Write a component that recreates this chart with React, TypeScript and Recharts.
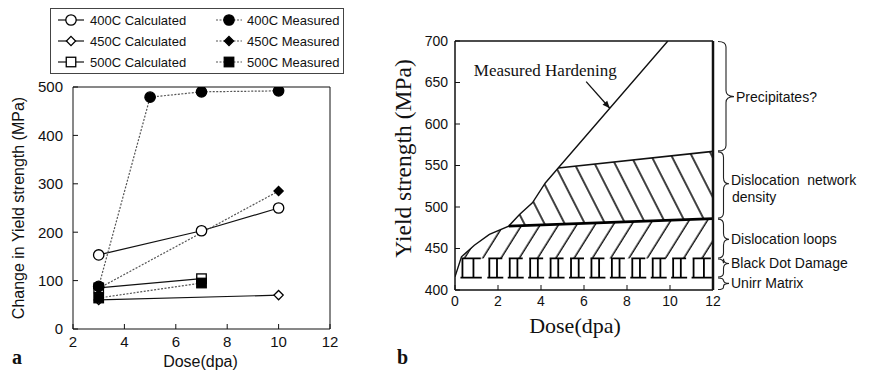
import React from 'react';
import {
  LineChart, ComposedChart, Line, Area, XAxis, YAxis, Legend, Label,
  ReferenceArea, ReferenceLine, ReferenceDot,
} from 'recharts';

const SANS = '"Liberation Sans", Arial, Helvetica, sans-serif';
const SERIF = '"Liberation Serif", "Times New Roman", serif';

// ---------------- Panel a ----------------
const xTicksA = [2, 4, 6, 8, 10, 12];
const yTicksA = [0, 100, 200, 300, 400, 500];

const dose400Calc = [3, 7, 10];
const ys400Calc = [153, 203, 250];
const dose450Calc = [3, 10];
const ys450Calc = [60, 70];
const dose500Calc = [3, 7];
const ys500Calc = [85, 104];

const dose400Meas = [3, 5, 7, 10];
const ys400Meas = [88, 479, 490, 492];
const dose450Meas = [3, 10];
const ys450Meas = [84, 285];
const dose500Meas = [3, 7];
const ys500Meas = [64, 95];

const calcNames = ['400C Calculated', '450C Calculated', '500C Calculated'];
const measNames = ['400C Measured', '450C Measured', '500C Measured'];
const markerShapes = ['circle', 'diamond', 'square'];

// ---------------- Panel b ----------------
const xTicksB = [0, 2, 4, 6, 8, 10, 12];
const yTicksB = [400, 450, 500, 550, 600, 650, 700];

const hardDose = [0, 0.3, 0.9, 1.6, 2.5, 3.0, 3.6, 4.2, 4.8, 9.9];
const hardYS = [416, 440, 454, 467, 477, 491, 505, 529, 547, 700];

const netTopDose = [4.8, 12];
const netTopYS = [547, 567];
const netBaseDose = [2.5, 12];
const netBaseYS = [477, 486];

const netBandDose = [2.5, 3.0, 3.6, 4.2, 4.8, 12];
const netBandLow = [477, 477.5, 478, 478.5, 479, 486];
const netBandHigh = [477, 491, 505, 529, 547, 567];

const loopBandDose = [0.3, 0.9, 1.6, 2.5, 12];
const loopBandLow = [438, 438, 438, 438, 438];
const loopBandHigh = [440, 454, 467, 477, 486];

const dotBoxStart = [0.3, 1.55, 2.5, 3.45, 4.4, 5.35, 6.3, 7.25, 8.2, 9.15, 10.1, 11.05];
const dotBoxEnd = [1.2, 2.2, 3.15, 4.1, 5.05, 6.0, 6.95, 7.9, 8.85, 9.8, 10.75, 11.9];
const dotBoxLow = 415;
const dotBoxHigh = 438;

const braceLow = [567, 486, 438, 415, 400];
const braceHigh = [700, 567, 486, 438, 415];
const braceTip = [633, 528, 461, 432, 408];
const braceText = [
  ['Precipitates?'],
  ['Dislocation  network', 'density'],
  ['Dislocation loops'],
  ['Black Dot Damage'],
  ['Unirr Matrix'],
];

const annotText = 'Measured Hardening';
const annotAt = { x: 4.2, y: 665 };
const arrowFrom = { x: 6.1, y: 651 };
const arrowTo = { x: 7.2, y: 619 };

const zip = (xs: number[], ys: number[]) => xs.map((x, i) => ({ x, y: ys[i] }));

type Shape = 'circle' | 'diamond' | 'square';

function MarkerGlyph({ shape, filled, cx, cy }: { shape: Shape; filled: boolean; cx: number; cy: number }) {
  const fill = filled ? '#000' : '#fff';
  const sw = 1.3;
  if (shape === 'circle') {
    return <circle cx={cx} cy={cy} r={5.2} fill={fill} stroke="#000" strokeWidth={sw} />;
  }
  if (shape === 'square') {
    const s = 9.5;
    return <rect x={cx - s / 2} y={cy - s / 2} width={s} height={s} fill={fill} stroke="#000" strokeWidth={sw} />;
  }
  const d = 4.6;
  return (
    <polygon
      points={`${cx},${cy - d} ${cx + d},${cy} ${cx},${cy + d} ${cx - d},${cy}`}
      fill={fill}
      stroke="#000"
      strokeWidth={sw}
    />
  );
}

const makeDot = (shape: Shape, filled: boolean) => (props: any) => (
  <MarkerGlyph key={`m-${shape}-${filled}-${props.index}`} shape={shape} filled={filled} cx={props.cx} cy={props.cy} />
);

const seriesA = [
  { name: calcNames[0], data: zip(dose400Calc, ys400Calc), shape: markerShapes[0] as Shape, filled: false },
  { name: calcNames[1], data: zip(dose450Calc, ys450Calc), shape: markerShapes[1] as Shape, filled: false },
  { name: calcNames[2], data: zip(dose500Calc, ys500Calc), shape: markerShapes[2] as Shape, filled: false },
  { name: measNames[0], data: zip(dose400Meas, ys400Meas), shape: markerShapes[0] as Shape, filled: true },
  { name: measNames[1], data: zip(dose450Meas, ys450Meas), shape: markerShapes[1] as Shape, filled: true },
  { name: measNames[2], data: zip(dose500Meas, ys500Meas), shape: markerShapes[2] as Shape, filled: true },
];

function LegendSymbol({ shape, filled }: { shape: Shape; filled: boolean }) {
  return (
    <svg width={28} height={14} style={{ display: 'block' }}>
      <line
        x1={1}
        y1={7}
        x2={27}
        y2={7}
        stroke={filled ? '#555' : '#111'}
        strokeWidth={1.2}
        strokeDasharray={filled ? '2 1.5' : undefined}
      />
      <MarkerGlyph shape={shape} filled={filled} cx={14} cy={7} />
    </svg>
  );
}

function LegendBox() {
  const rows = [0, 1, 2];
  return (
    <div
      style={{
        width: 294,
        height: 66,
        border: '1px solid #444',
        boxSizing: 'border-box',
        position: 'relative',
        background: '#fff',
        fontFamily: SANS,
        fontSize: 13,
        color: '#111',
      }}
    >
      {rows.map((r) => (
        <React.Fragment key={r}>
          <div style={{ position: 'absolute', left: 6, top: 4 + r * 21, display: 'flex', alignItems: 'center', height: 14 }}>
            <LegendSymbol shape={markerShapes[r] as Shape} filled={false} />
            <span style={{ marginLeft: 5, whiteSpace: 'nowrap' }}>{calcNames[r]}</span>
          </div>
          <div style={{ position: 'absolute', left: 164, top: 4 + r * 21, display: 'flex', alignItems: 'center', height: 14 }}>
            <LegendSymbol shape={markerShapes[r] as Shape} filled={true} />
            <span style={{ marginLeft: 4, whiteSpace: 'nowrap' }}>{measNames[r]}</span>
          </div>
        </React.Fragment>
      ))}
    </div>
  );
}

const tickStyleA = { fontSize: 15, fill: '#111', fontFamily: SANS };
const tickStyleB = { fontSize: 14, fill: '#111', fontFamily: SANS };
const blank = () => '';

function Brace(i: number) {
  return (p: any) => {
    const right = p.x + p.width;
    const yt = p.y;
    const yb = p.y + p.height;
    const big = i === 0;
    const x0 = right + 5;
    const w = big ? 16 : 11;
    const mid = x0 + w / 2;
    const frac = (braceHigh[i] - braceTip[i]) / (braceHigh[i] - braceLow[i]);
    const ym = yt + frac * (yb - yt);
    const r = Math.min(6, (yb - yt) / 4);
    const d = `M${x0},${yt + 0.5} Q${mid},${yt + 0.5} ${mid},${yt + r} L${mid},${ym - r} Q${mid},${ym} ${x0 + w},${ym} Q${mid},${ym} ${mid},${ym + r} L${mid},${yb - r} Q${mid},${yb - 0.5} ${x0},${yb - 0.5}`;
    const lines = braceText[i];
    const ty0 = lines.length > 1 ? ym - 4 : ym;
    return (
      <g>
        <path d={d} fill="none" stroke="#222" strokeWidth={1.1} />
        {lines.map((t, k) => (
          <text
            key={k}
            x={x0 + w + (k === 0 ? 2 : 3)}
            y={ty0 + k * 17}
            dominantBaseline="central"
            fontFamily={SANS}
            fontSize={14}
            fill="#111"
            style={{ whiteSpace: 'pre' }}
          >
            {t}
          </text>
        ))}
      </g>
    );
  };
}

function DotBoxShape(p: any) {
  const { x, y, width, height } = p;
  const d = `M${x},${y} H${x + width} M${x - 1},${y + height} H${x + width + 1} M${x + 1},${y} V${y + height} M${x + width * 0.62},${y} V${y + height}`;
  return <path d={d} fill="none" stroke="#000" strokeWidth={1.8} />;
}

function ArrowShape(p: any) {
  const { x1, y1, x2, y2 } = p;
  const a = Math.atan2(y2 - y1, x2 - x1);
  const L = 8;
  const s = 0.4;
  const ax = x2 - L * Math.cos(a - s);
  const ay = y2 - L * Math.sin(a - s);
  const bx = x2 - L * Math.cos(a + s);
  const by = y2 - L * Math.sin(a + s);
  return (
    <g>
      <line x1={x1} y1={y1} x2={x2} y2={y2} stroke="#111" strokeWidth={1.3} />
      <polygon points={`${x2},${y2} ${ax},${ay} ${bx},${by}`} fill="#111" />
    </g>
  );
}

export default function App() {
  const hardData = zip(hardDose, hardYS);
  const netTop = zip(netTopDose, netTopYS);
  const netBase = zip(netBaseDose, netBaseYS);
  const netBand = netBandDose.map((x, i) => ({ x, range: [netBandLow[i], netBandHigh[i]] }));
  const loopBand = loopBandDose.map((x, i) => ({ x, range: [loopBandLow[i], loopBandHigh[i]] }));

  return (
    <div style={{ position: 'absolute', left: 0, top: 0, width: 875, height: 371, background: '#fff', overflow: 'hidden' }}>
      <svg width={0} height={0} style={{ position: 'absolute' }}>
        <defs>
          <pattern id="hatchNet" patternUnits="userSpaceOnUse" width={18} height={40} patternTransform="rotate(-27)">
            <line x1={9} y1={0} x2={9} y2={40} stroke="#000" strokeWidth={1.5} />
          </pattern>
          <pattern id="hatchLoop" patternUnits="userSpaceOnUse" width={15.5} height={40} patternTransform="rotate(32)">
            <line x1={7} y1={0} x2={7} y2={40} stroke="#000" strokeWidth={1.4} />
          </pattern>
        </defs>
      </svg>

      {/* Panel a */}
      <div style={{ position: 'absolute', left: 0, top: 0 }}>
        <LineChart width={440} height={371} margin={{ top: 86, right: 109, bottom: 12, left: 0 }}>
          <XAxis
            dataKey="x"
            type="number"
            domain={[2, 12]}
            ticks={xTicksA}
            allowDataOverflow
            height={30}
            tickSize={-5}
            tickMargin={12}
            tick={tickStyleA}
            axisLine={{ stroke: '#111' }}
            tickLine={{ stroke: '#111' }}
          >
            <Label
              content={(props: any) => {
                const vb = props.viewBox;
                return (
                  <text x={vb.x + vb.width / 2 - 1} y={vb.y + 32} textAnchor="middle" dominantBaseline="central" fontFamily={SANS} fontSize={16} fill="#111">
                    Dose(dpa)
                  </text>
                );
              }}
            />
          </XAxis>
          <XAxis
            xAxisId="top"
            orientation="top"
            type="number"
            domain={[2, 12]}
            ticks={xTicksA}
            height={1}
            tickSize={-5}
            tickFormatter={blank}
            axisLine={{ stroke: '#111' }}
            tickLine={{ stroke: '#111' }}
          />
          <YAxis
            type="number"
            domain={[0, 500]}
            ticks={yTicksA}
            allowDataOverflow
            width={73}
            tickSize={-5}
            tickMargin={15}
            tick={tickStyleA}
            axisLine={{ stroke: '#111' }}
            tickLine={{ stroke: '#111' }}
          >
            <Label
              content={(props: any) => {
                const vb = props.viewBox;
                const cx = 18;
                const cy = vb.y + vb.height / 2;
                return (
                  <text x={cx} y={cy} transform={`rotate(-90 ${cx} ${cy})`} textAnchor="middle" dominantBaseline="central" fontFamily={SANS} fontSize={16} fill="#111">
                    Change in Yield strength (MPa)
                  </text>
                );
              }}
            />
          </YAxis>
          <YAxis
            yAxisId="right"
            orientation="right"
            type="number"
            domain={[0, 500]}
            ticks={yTicksA}
            width={1}
            tickSize={-5}
            tickFormatter={blank}
            axisLine={{ stroke: '#111' }}
            tickLine={{ stroke: '#111' }}
          />
          <Legend
            layout="vertical"
            align="center"
            verticalAlign="middle"
            wrapperStyle={{ left: 50, top: 8, width: 294, height: 66 }}
            content={() => <LegendBox />}
          />
          {seriesA.map((s) => (
            <Line
              key={s.name}
              name={s.name}
              data={s.data}
              dataKey="y"
              type="linear"
              stroke={s.filled ? '#555' : '#111'}
              strokeWidth={1.2}
              strokeDasharray={s.filled ? '2 1.5' : undefined}
              dot={makeDot(s.shape, s.filled)}
              activeDot={false}
              isAnimationActive={false}
            />
          ))}
          <text x={12} y={364} fontFamily={SERIF} fontWeight="bold" fontSize={20} fill="#111">a</text>
        </LineChart>
      </div>

      {/* Panel b */}
      <div style={{ position: 'absolute', left: 380, top: 0 }}>
        <ComposedChart width={495} height={371} margin={{ top: 40, right: 160, bottom: 51, left: 0 }}>
          <XAxis
            dataKey="x"
            type="number"
            domain={[0, 12]}
            ticks={xTicksB}
            allowDataOverflow
            height={30}
            tickSize={-5}
            tickMargin={11}
            tick={tickStyleB}
            axisLine={{ stroke: '#111', strokeWidth: 1.5 }}
            tickLine={{ stroke: '#111' }}
          >
            <Label
              content={(props: any) => {
                const vb = props.viewBox;
                return (
                  <text x={vb.x + vb.width / 2 - 9} y={vb.y + 35} textAnchor="middle" dominantBaseline="central" fontFamily={SERIF} fontSize={22} fill="#111">
                    Dose(dpa)
                  </text>
                );
              }}
            />
          </XAxis>
          <XAxis
            xAxisId="top"
            orientation="top"
            type="number"
            domain={[0, 12]}
            ticks={xTicksB}
            height={1}
            tickSize={-5}
            tickFormatter={blank}
            axisLine={{ stroke: '#111', strokeWidth: 1.5 }}
            tickLine={{ stroke: '#111' }}
          />
          <YAxis
            type="number"
            domain={[400, 700]}
            ticks={yTicksB}
            allowDataOverflow
            width={75}
            tickSize={-5}
            tickMargin={12}
            tick={tickStyleB}
            axisLine={{ stroke: '#111', strokeWidth: 1.5 }}
            tickLine={{ stroke: '#111' }}
          >
            <Label
              content={(props: any) => {
                const vb = props.viewBox;
                const cx = 23;
                const cy = vb.y + vb.height / 2 - 7;
                return (
                  <text x={cx} y={cy} transform={`rotate(-90 ${cx} ${cy})`} textAnchor="middle" dominantBaseline="central" fontFamily={SERIF} fontSize={23.5} fill="#111">
                    Yield strength (MPa)
                  </text>
                );
              }}
            />
          </YAxis>
          <YAxis
            yAxisId="right"
            orientation="right"
            type="number"
            domain={[400, 700]}
            ticks={yTicksB}
            width={2}
            tickSize={-5}
            tickFormatter={blank}
            axisLine={{ stroke: '#111', strokeWidth: 2.5 }}
            tickLine={{ stroke: '#111' }}
          />
          <Area
            data={loopBand}
            dataKey="range"
            type="linear"
            stroke="none"
            fill="url(#hatchLoop)"
            fillOpacity={1}
            isAnimationActive={false}
            activeDot={false}
          />
          <Area
            data={netBand}
            dataKey="range"
            type="linear"
            stroke="none"
            fill="url(#hatchNet)"
            fillOpacity={1}
            isAnimationActive={false}
            activeDot={false}
          />
          {dotBoxStart.map((x1, i) => (
            <ReferenceArea
              key={`box-${i}`}
              x1={x1}
              x2={dotBoxEnd[i]}
              y1={dotBoxLow}
              y2={dotBoxHigh}
              ifOverflow="visible"
              shape={DotBoxShape}
            />
          ))}
          <Line data={hardData} dataKey="y" type="linear" stroke="#111" strokeWidth={1.4} dot={false} activeDot={false} isAnimationActive={false} />
          <Line data={netTop} dataKey="y" type="linear" stroke="#111" strokeWidth={1.6} dot={false} activeDot={false} isAnimationActive={false} />
          <Line data={netBase} dataKey="y" type="linear" stroke="#000" strokeWidth={2.6} dot={false} activeDot={false} isAnimationActive={false} />
          {braceLow.map((lo, i) => (
            <ReferenceArea key={i} x1={11.5} x2={12} y1={lo} y2={braceHigh[i]} ifOverflow="visible" shape={Brace(i)} />
          ))}
          <ReferenceDot
            x={annotAt.x}
            y={annotAt.y}
            ifOverflow="visible"
            shape={(p: any) => (
              <text x={p.cx} y={p.cy} textAnchor="middle" dominantBaseline="central" fontFamily={SERIF} fontSize={17} fill="#111">
                {annotText}
              </text>
            )}
          />
          <ReferenceLine segment={[arrowFrom, arrowTo]} ifOverflow="visible" shape={ArrowShape} />
          <text x={17} y={364} fontFamily={SERIF} fontWeight="bold" fontSize={20} fill="#111">b</text>
        </ComposedChart>
      </div>
    </div>
  );
}
